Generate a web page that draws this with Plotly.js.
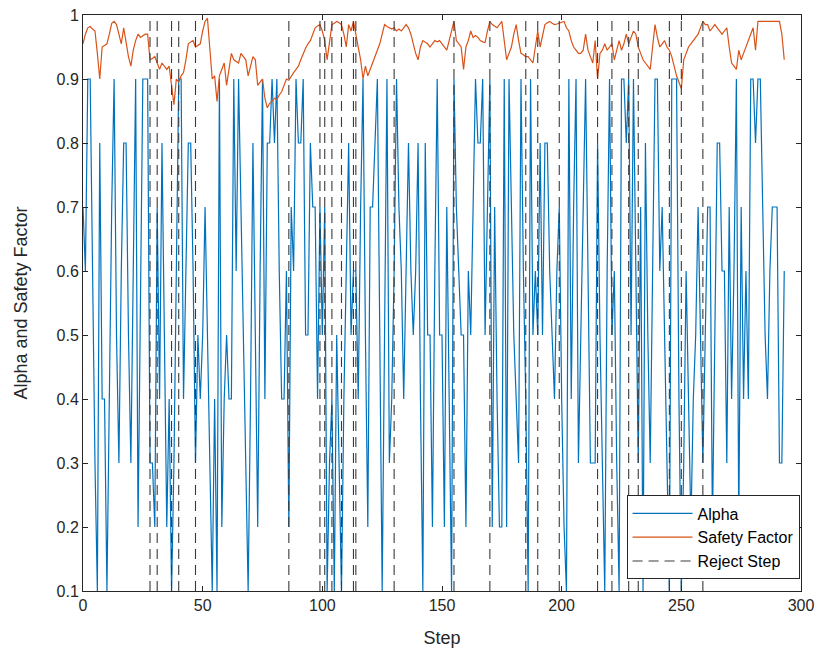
<!DOCTYPE html>
<html>
<head>
<meta charset="utf-8">
<script src="https://cdn.plot.ly/plotly-3.0.1.min.js"></script>
<style>html,body{margin:0;padding:0;background:#fff;}#chart{width:825px;height:659px;}</style>
</head>
<body>
<div id="chart"></div>
<script>
// Alpha per step (steps 0..293)
const alpha = [
0.7,0.6,0.9,0.9,0.6,0.3,0.1,0.8,0.4,0.4,
0.1,0.4,0.7,0.9,0.5,0.3,0.6,0.8,0.8,0.5,
0.3,0.6,0.9,0.2,0.6,0.9,0.9,0.9,0.3,0.3,
0.2,0.7,0.4,0.8,0.5,0.2,0.4,0.1,0.3,0.6,
0.9,0.9,0.4,0.6,0.8,0.8,0.6,0.3,0.5,0.4,
0.5,0.7,0.5,0.3,0.1,0.4,0.1,0.9,0.2,0.4,
0.5,0.4,0.4,0.9,0.6,0.9,0.7,0.5,0.3,0.1,
0.4,0.8,0.5,0.2,0.6,0.9,0.4,0.8,0.8,0.9,
0.8,0.9,0.6,0.4,0.4,0.6,0.2,0.7,0.6,0.9,
0.8,0.8,0.9,0.5,0.5,0.8,0.7,0.7,0.4,0.7,
0.5,0.7,0.1,0.3,0.4,0.1,0.5,0.3,0.1,0.4,
0.6,0.8,0.5,0.6,0.6,0.4,0.7,0.9,0.5,0.2,
0.7,0.7,0.8,0.9,0.5,0.1,0.5,0.9,0.3,0.4,
0.6,0.9,0.7,0.6,0.4,0.6,0.8,0.6,0.5,0.6,
0.8,0.4,0.1,0.8,0.5,0.5,0.2,0.6,0.9,0.5,
0.5,0.2,0.7,0.4,0.1,0.9,0.7,0.6,0.5,0.5,
0.2,0.6,0.5,0.7,0.9,0.8,0.8,0.9,0.5,0.7,
0.9,0.2,0.7,0.4,0.2,0.2,0.9,0.2,0.9,0.7,
0.5,0.4,0.3,0.9,0.6,0.4,0.1,0.9,0.5,0.6,
0.5,0.8,0.5,0.8,0.8,0.6,0.5,0.4,0.6,0.7,
0.4,0.2,0.1,0.9,0.4,0.7,0.9,0.3,0.5,0.7,
0.9,0.6,0.3,0.3,0.3,0.8,0.5,0.3,0.1,0.6,
0.9,0.5,0.6,0.3,0.1,0.9,0.9,0.8,0.9,0.5,
0.9,0.6,0.3,0.7,0.1,0.8,0.5,0.3,0.6,0.9,
0.9,0.6,0.7,0.5,0.3,0.1,0.9,0.9,0.9,0.4,
0.1,0.3,0.6,0.4,0.2,0.4,0.5,0.7,0.5,0.3,
0.5,0.7,0.7,0.2,0.5,0.8,0.8,0.6,0.6,0.3,
0.7,0.4,0.6,0.9,0.2,0.7,0.4,0.6,0.4,0.9,
0.9,0.8,0.9,0.9,0.7,0.5,0.4,0.6,0.7,0.7,
0.7,0.3,0.3,0.6
];

// Safety factor per step (steps 0..293)
const safetyFactor = [
0.955,0.97,0.98,0.982,0.978,0.975,0.94,0.90,0.95,0.952,
0.955,0.97,0.987,0.99,0.985,0.97,0.955,0.98,0.955,0.935,
0.92,0.945,0.96,0.97,0.965,0.968,0.97,0.97,0.93,0.932,
0.935,0.925,0.915,0.925,0.92,0.915,0.92,0.89,0.86,0.90,
0.895,0.905,0.91,0.93,0.955,0.958,0.96,0.95,0.952,0.955,
0.975,0.99,0.995,0.95,0.90,0.905,0.865,0.905,0.915,0.925,
0.89,0.915,0.94,0.93,0.928,0.925,0.94,0.935,0.93,0.905,
0.92,0.935,0.93,0.89,0.895,0.90,0.87,0.855,0.862,0.865,
0.87,0.868,0.875,0.88,0.89,0.90,0.898,0.905,0.91,0.915,
0.92,0.93,0.94,0.948,0.955,0.96,0.97,0.98,0.983,0.985,
0.975,0.96,0.93,0.96,0.985,0.987,0.99,0.988,0.985,0.97,
0.95,0.985,0.975,0.99,0.97,0.95,0.93,0.90,0.92,0.905,
0.915,0.925,0.935,0.945,0.955,0.97,0.985,0.982,0.98,0.978,
0.98,0.975,0.978,0.975,0.98,0.985,0.98,0.97,0.955,0.94,
0.93,0.95,0.96,0.958,0.955,0.95,0.955,0.96,0.958,0.96,
0.955,0.95,0.945,0.96,0.975,0.99,0.96,0.955,0.95,0.915,
0.95,0.96,0.975,0.965,0.968,0.965,0.96,0.958,0.957,0.975,
0.99,0.985,0.983,0.98,0.985,0.99,0.96,0.93,0.94,0.95,
0.97,0.985,0.96,0.94,0.938,0.935,0.935,0.93,0.925,0.95,
0.975,0.95,0.97,0.985,0.988,0.99,0.987,0.985,0.986,0.987,
0.988,0.99,0.98,0.975,0.96,0.95,0.945,0.94,0.94,0.945,
0.97,0.945,0.935,0.925,0.96,0.90,0.94,0.945,0.955,0.945,
0.95,0.955,0.93,0.945,0.96,0.945,0.955,0.97,0.955,0.965,
0.975,0.97,0.95,0.94,0.93,0.925,0.92,0.915,0.95,0.985,
0.965,0.95,0.955,0.96,0.95,0.945,0.935,0.92,0.905,0.895,
0.885,0.93,0.94,0.95,0.955,0.96,0.965,0.97,0.98,0.99,
0.985,0.985,0.975,0.98,0.985,0.98,0.975,0.97,0.975,0.98,
0.95,0.925,0.92,0.915,0.945,0.93,0.94,0.95,0.96,0.97,
0.98,0.945,0.99,0.99,0.99,0.99,0.99,0.99,0.99,0.99,
0.99,0.99,0.97,0.93
];

// Steps where the step was rejected
const rejectSteps = [28,31,37,40,47,86,99,101,104,108,113,114,130,155,170,185,190,199,215,221,228,232,245,250,259];

const xTickVals = [0,50,100,150,200,250,300];
const yTickVals = [0.1,0.2,0.3,0.4,0.5,0.6,0.7,0.8,0.9,1];
const yTickText = ['0.1','0.2','0.3','0.4','0.5','0.6','0.7','0.8','0.9','1'];

const steps = alpha.map((_, i) => i);
const yLo = 0.1, yHi = 1;

const rx = [], ry = [];
rejectSteps.forEach(s => { rx.push(s, s, null); ry.push(yLo, yHi, null); });

const font = "'Liberation Sans', Arial, Helvetica, sans-serif";

const traces = [
  {x: steps, y: alpha, type: 'scatter', mode: 'lines', name: 'Alpha',
   line: {color: '#0072BD', width: 1.2}},
  {x: steps, y: safetyFactor, type: 'scatter', mode: 'lines', name: 'Safety Factor',
   line: {color: '#D95319', width: 1.2}},
  {x: rx, y: ry, type: 'scatter', mode: 'lines', name: 'Reject Step',
   line: {color: '#3a3a3a', width: 1.1, dash: '10px,6px'}, connectgaps: false}
];

const axisCommon = {
  showgrid: false, zeroline: false, showline: true, mirror: 'ticks',
  linecolor: '#262626', linewidth: 1, ticks: 'inside', ticklen: 5, tickcolor: '#262626',
  tickfont: {family: font, size: 16, color: '#262626'}
};

const layout = {
  width: 825, height: 659,
  margin: {l: 83, r: 24, t: 15, b: 68},
  paper_bgcolor: '#ffffff', plot_bgcolor: '#ffffff',
  showlegend: true,
  legend: {x: 0.998, xanchor: 'right', y: 0.02, yanchor: 'bottom',
           bgcolor: '#ffffff', bordercolor: '#262626', borderwidth: 1,
           font: {family: font, size: 16, color: '#000000'}, tracegroupgap: 0, itemwidth: 60},
  xaxis: Object.assign({}, axisCommon, {
    range: [0, 300], tickvals: xTickVals, ticktext: xTickVals.map(String),
    title: {text: 'Step', font: {family: font, size: 18, color: '#262626'}, standoff: 18}
  }),
  yaxis: Object.assign({}, axisCommon, {
    range: [yLo, yHi], tickvals: yTickVals, ticktext: yTickText,
    title: {text: 'Alpha and Safety Factor', font: {family: font, size: 18, color: '#262626'}, standoff: 24}
  })
};

Plotly.newPlot('chart', traces, layout, {displayModeBar: false, staticPlot: true});
</script>
</body>
</html>
